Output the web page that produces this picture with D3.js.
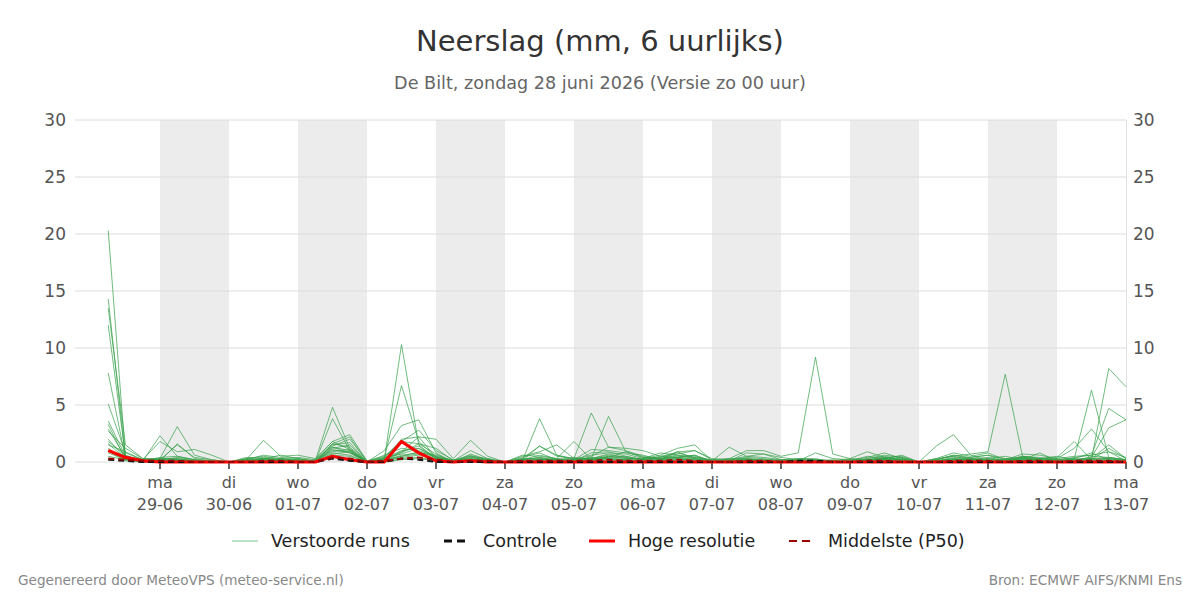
<!DOCTYPE html>
<html><head><meta charset="utf-8">
<script src="https://cdn.jsdelivr.net/npm/d3@7"></script>
<style>
html,body{margin:0;padding:0;background:#fff;}
svg{display:block;font-family:"DejaVu Sans",sans-serif;}
</style></head>
<body><svg id="c" width="1200" height="600"></svg>
<script>
// ---- Data (6-hourly precipitation, mm) from 28-06 06h to 13-07 00h ----
const firstTime = Date.UTC(2026,5,28,6);   // first value
const stepHours = 6;
const dayNames = ["ma","di","wo","do","vr","za","zo","ma","di","wo","do","vr","za","zo","ma"];
const dayDates = ["29-06","30-06","01-07","02-07","03-07","04-07","05-07","06-07","07-07","08-07","09-07","10-07","11-07","12-07","13-07"];
const shadedDays = ["29-06","01-07","03-07","05-07","07-07","09-07","11-07"];
const yTicks = [0,5,10,15,20,25,30];

const run01=[20.3,0.4,0.1, 0.2,0.1,0,0, 0,0,0.1,0, 0,0,1.3,0.8, 0,0.2,10.3,1.5, 0.3,0,0.2,0.1, 0,0,0.3,0.1, 0,0.2,0.3,0.2, 0.1,0.2,0.3,0.1, 0,0.1,0.2,0.1, 0,0.1,0,0, 0,0.1,0.2,0.3, 0,0,0.2,0.1, 0.1,0,0.3,0.2, 0,0.1,0,0.3, 0.1];
const run02=[14.3,0.3,0.1, 2.3,0.5,0.2,0, 0,0,0.3,0.2, 0.1,0,3.8,1.0, 0,0.3,6.7,1.8, 0.4,0.1,0.6,0.1, 0,0.1,3.8,0.6, 0.3,0.2,0.4,0.9, 0.4,0.3,0.6,0.3, 0,0.2,0.5,0.4, 0.2,0.2,0.1,0, 0.1,0,0.2,0.2, 0,0.1,0.4,0.3, 0.4,0.1,0.5,0.3, 0.2,0,0.5,0.4, 0.2];
const run03=[13.5,1.5,0.3, 0.3,3.1,0.6,0.2, 0,0,0.1,0.3, 0.2,0.1,4.8,1.2, 0,1.0,3.2,3.7, 0.8,0,0.4,0.2, 0,0.3,1.4,0.5, 0.3,0.3,4.0,0.9, 0.4,0.3,0.4,0.6, 0.1,0.3,0.3,0.2, 0.2,0.3,0.3,0, 0.2,0.2,0.3,0.4, 0,0.2,0.6,0.4, 0.6,0.1,0.4,0.3, 0.2,0.4,0.6,4.7, 3.7];
const run04=[12.0,0.5,0.2, 1.8,0.9,1.1,0.6, 0,0.2,1.9,0.5, 0.6,0.3,1.8,2.4, 0.1,0.5,1.8,2.8, 1.0,0.2,0.5,0.2, 0,0.5,0.9,1.5, 0.3,4.3,1.3,1.2, 1.0,0.5,0.8,0.4, 0.2,0.3,1.0,1.0, 0.5,0.8,9.2,0.7, 0.3,0.2,0.4,0.5, 0,0.3,0.5,0.7, 0.9,7.7,0.5,0.4, 0.1,0.3,0.2,8.2, 6.6];
const run05=[7.8,0.3,0.2, 0.1,1.6,0.3,0.1, 0,0.1,0.3,0.6, 0.3,0,1.6,2.2, 0,0.3,2.0,2.2, 2.0,0.3,1.9,0.5, 0,0.2,0.6,0.3, 1.8,0.2,0.5,0.3, 0.3,0.6,1.2,1.5, 0.1,1.3,0.5,0.7, 0.4,0.2,0.2,0.1, 0.3,0.9,0.4,0.2, 0,1.4,2.4,0.6, 0.1,0.3,0.4,0.3, 0.5,0.2,0.3,1.5, 0.3];
const run06=[5.1,0.8,0.2, 0.2,1.5,0.4,0.2, 0,0.3,0.5,0.3, 0.4,0.2,1.4,2.0, 0.1,0.4,1.8,1.6, 1.2,0.1,1.0,0.3, 0,0.1,1.4,0.6, 0.2,1.1,1.0,0.8, 0.6,0.2,0.9,1.0, 0.2,0.1,0.8,0.7, 0.2,0.1,0.8,0.3, 0.2,0.4,0.8,0.3, 0,0.3,0.8,0.5, 0.8,0.2,0.7,0.6, 0.3,0.5,0.6,0.9, 0.4];
const run07=[3.6,0.5,0.2, 0.3,0.3,0.1,0.1, 0,0.4,0.3,0.2, 0.1,0,1.2,1.5, 0,0.6,1.2,1.0, 0.5,0,0.7,0.2, 0,0.4,0.8,0.2, 0,0.5,1.3,1.0, 0.5,0.3,0.4,0.2, 0.1,0,0.2,0.1, 0,0.1,0.2,0.1, 0.1,0.3,0.6,0.4, 0,0.2,0.5,0.2, 0.3,0.5,0.2,0.8, 0.1,0.3,6.3,0.4, 0.2];
const run08=[3.3,0.2,0.1, 0.4,0.5,0.2,0, 0,0.2,0.6,0.4, 0.3,0.1,1.0,0.9, 0,0.2,0.9,2.2, 0.4,0.2,0.2,0.1, 0,0.6,0.5,0.3, 0.1,0.8,0.9,0.5, 0.2,0.4,0.7,1.0, 0.3,0.2,0.1,0.2, 0.1,0,0.1,0.2, 0.1,0.5,0.3,0.6, 0,0.1,0.3,0.4, 0.6,0.3,0.1,0.3, 0.3,1.2,2.9,0.9, 0.1];
const run09=[2.9,0.4,0.2, 0.1,0.2,0.1,0, 0,0.1,0.2,0.1, 0,0.2,1.8,1.1, 0,0.1,0.8,1.6, 0.7,0,0.5,0.3, 0,0.2,0.4,0.1, 0.2,0.6,0.8,0.7, 0.3,0.8,0.6,0.5, 0.1,0.2,0.4,0.3, 0.1,0.2,0.1,0, 0,0.3,0.5,0.2, 0,0.1,0.3,0.2, 0.2,0.1,0.3,0.2, 0.1,0.2,0.4,3.0, 3.7];
const run10=[2.7,1.2,0.3, 0.2,0.4,0.2,0.1, 0,0.3,0.4,0.2, 0.1,0,1.6,1.3, 0,0.3,1.0,1.2, 0.3,0.1,0.3,0.1, 0,0.1,0.2,0.2, 0.4,0.3,0.6,0.4, 0.1,0.3,0.4,0.6, 0,0.2,0.2,0.1, 0,0.3,0.2,0.1, 0,0.2,0.2,0.1, 0,0.1,0.2,0.3, 0.2,0.2,0.5,0.3, 0.4,1.8,0.2,0.3, 0.1];
const run11=[1.8,0.6,0.1, 0.3,0.2,0.1,0, 0,0.2,0.3,0.1, 0.2,0.1,1.3,1.0, 0,0.4,0.7,1.2, 0.5,0.1,0.4,0.2, 0,0.3,0.3,0.1, 0.2,0.2,0.5,0.3, 0.3,0.4,0.9,0.3, 0.1,0.1,0.3,0.1, 0,0.1,0,0.1, 0,0.2,0.3,0.2, 0,0.2,0.6,0.3, 0.1,0.2,0.3,0.1, 0.2,0.3,0.8,0.2, 0];
const run12=[1.6,0.3,0.1, 0.1,0.1,0,0, 0,0.1,0.2,0.3, 0.1,0,1.1,0.8, 0,0.2,0.5,0.9, 0.4,0,0.2,0.1, 0,0.1,0.2,0.3, 0.1,0.4,0.3,0.2, 0.1,0.2,0.3,0.2, 0,0.1,0.1,0, 0,0,0.1,0, 0.1,0.1,0.2,0.1, 0,0,0.1,0.1, 0.1,0,0.2,0.1, 0,0.1,0.3,0.4, 0.2];
const run13=[1.2,0.2,0, 0,0.1,0,0, 0,0,0.1,0.1, 0,0,0.8,0.6, 0,0.1,0.4,0.6, 0.2,0,0.1,0, 0,0,0.1,0.1, 0,0.1,0.2,0.1, 0,0.1,0.2,0.1, 0,0,0.1,0, 0,0,0,0, 0,0,0.1,0, 0,0,0.1,0.1, 0,0,0.1,0, 0,0,0.1,0.2, 0];
const run14=[1.5,0.9,0.2, 0.2,0.2,0.1,0, 0,0.2,0.2,0.1, 0.1,0.1,0.9,1.1, 0,0.1,0.6,0.8, 0.6,0.1,0.2,0.1, 0,0.2,0.2,0.2, 0.1,0.3,0.7,0.4, 0.2,0.3,0.5,0.4, 0.1,0.1,0.2,0.1, 0,0.1,0.1,0.1, 0,0.1,0.4,0.2, 0,0.1,0.2,0.2, 0.3,0.1,0.4,0.2, 0.2,0.1,0.2,1.2, 0.3];
const run15=[0.8,0.2,0.1, 0.1,0,0,0, 0,0,0,0.1, 0,0,0.6,0.5, 0,0,0.3,0.4, 0.1,0,0.1,0, 0,0,0.1,0, 0,0.1,0.1,0.1, 0,0.1,0.1,0, 0,0,0,0, 0,0,0,0, 0,0,0.1,0, 0,0,0,0, 0,0,0.1,0, 0,0,0.1,0.1, 0];
const run16=[2.0,0.3,0.1, 0.2,0.3,0.1,0, 0,0.1,0.3,0.2, 0.2,0.1,1.5,1.7, 0,0.2,0.9,1.4, 0.3,0,0.3,0.1, 0,0.2,0.4,0.2, 0.1,0.3,0.4,0.5, 0.2,0.5,0.4,0.3, 0.1,0.1,0.2,0.1, 0.1,0.1,0.1,0.1, 0,0.2,0.3,0.1, 0,0.1,0.2,0.2, 0.1,0.1,0.2,0.2, 0.1,0.2,0.3,0.3, 0.1];
const run17=[1.0,0.1,0, 0,0.1,0,0, 0,0,0.1,0, 0,0,0.7,0.9, 0,0.1,0.5,0.7, 0.3,0,0.1,0, 0,0.1,0.1,0.1, 0,0.2,0.3,0.2, 0.1,0.1,0.2,0.1, 0,0,0.1,0, 0,0,0,0, 0,0.1,0.1,0, 0,0,0.1,0.1, 0.1,0,0.1,0.1, 0,0.1,0.2,0.1, 0];
const run18=[0.5,0.2,0.1, 0,0.1,0,0, 0,0,0,0, 0,0,0.4,0.3, 0,0,0.2,0.3, 0.1,0,0,0, 0,0,0,0, 0,0,0.1,0, 0,0,0.1,0, 0,0,0,0, 0,0,0,0, 0,0,0,0, 0,0,0,0, 0,0,0,0, 0,0,0,0, 0];

const hiRes  =[1.0,0.4,0.1, 0,0,0,0, 0,0,0,0, 0,0,0.5,0.2, 0,0,1.8,0.8, 0.1,0,0.1,0, 0,0,0,0, 0,0,0,0, 0,0,0,0, 0,0,0,0, 0,0,0,0, 0,0,0,0, 0,0,0,0, 0,0,0,0, 0,0,0,0, 0];
const control=[0.2,0.1,0, 0,0,0,0, 0,0,0,0, 0,0,0.3,0.1, 0,0,0.3,0.2, 0,0,0,0, 0,0,0,0, 0,0,0,0, 0,0,0,0, 0,0,0,0, 0,0.1,0.1,0, 0,0,0,0, 0,0,0,0, 0,0,0,0, 0,0,0,0, 0];
const p50    =[0.3,0.2,0.1, 0.1,0.1,0,0, 0,0,0.1,0.1, 0,0,0.4,0.3, 0,0.1,0.3,0.4, 0.2,0,0.1,0.1, 0,0.1,0.1,0.1, 0.1,0.1,0.2,0.1, 0.1,0.1,0.2,0.1, 0,0,0.1,0.1, 0,0,0,0, 0,0.1,0.1,0, 0,0,0.1,0.1, 0.1,0,0.1,0.1, 0,0.1,0.1,0.1, 0];

const runs=[run01,run02,run03,run04,run05,run06,run07,run08,run09,run10,run11,run12,run13,run14,run15,run16,run17,run18];

// ---- Drawing ----
const svg=d3.select("#c");
const L=75,R=1126,T=120,B=462;
const H=3600*1000;
const parseD=s=>{const [d,m]=s.split("-").map(Number);return Date.UTC(2026,m-1,d);};
const x=d3.scaleUtc().domain([new Date(Date.UTC(2026,5,29)-29.565*H), new Date(Date.UTC(2026,6,13))]).range([L,R]);
const y=d3.scaleLinear().domain([0,30]).range([B,T]);
const tOf=i=>new Date(firstTime+i*stepHours*H);

svg.append("text").attr("x",600).attr("y",51).attr("text-anchor","middle")
  .attr("font-size",29).attr("fill","#333").text("Neerslag (mm, 6 uurlijks)");
svg.append("text").attr("x",600).attr("y",89).attr("text-anchor","middle")
  .attr("font-size",17.6).attr("fill","#666").text("De Bilt, zondag 28 juni 2026 (Versie zo 00 uur)");

// shaded days
svg.append("g").selectAll("rect").data(shadedDays).join("rect")
  .attr("x",d=>x(new Date(parseD(d)))).attr("y",T)
  .attr("width",d=>x(new Date(parseD(d)+24*H))-x(new Date(parseD(d))))
  .attr("height",B-T).attr("fill","#ececec");

// grid
svg.append("g").selectAll("line").data(yTicks).join("line")
  .attr("x1",L).attr("x2",R).attr("y1",d=>y(d)).attr("y2",d=>y(d))
  .attr("stroke","#dcdcdc").attr("stroke-width",1);
svg.append("line").attr("x1",R+0.5).attr("x2",R+0.5).attr("y1",T).attr("y2",B).attr("stroke","#e2e2e2");

// y labels
const yl=svg.append("g").attr("font-size",17).attr("fill","#555");
yl.selectAll("text.l").data(yTicks).join("text").attr("class","l")
  .attr("x",66).attr("y",d=>y(d)).attr("dy","0.35em").attr("text-anchor","end").text(d=>d);
yl.selectAll("text.r").data(yTicks).join("text").attr("class","r")
  .attr("x",1133).attr("y",d=>y(d)).attr("dy","0.35em").attr("text-anchor","start").text(d=>d);

// x ticks
const xt=svg.append("g");
xt.selectAll("line").data(dayDates).join("line")
  .attr("x1",d=>x(new Date(parseD(d)))).attr("x2",d=>x(new Date(parseD(d))))
  .attr("y1",B).attr("y2",B+7).attr("stroke","#666").attr("stroke-width",2);
const xl=xt.append("g").attr("font-size",16).attr("fill","#555").attr("text-anchor","middle");
xl.selectAll("text.n").data(dayDates).join("text").attr("class","n")
  .attr("x",d=>x(new Date(parseD(d)))).attr("y",488).text((d,i)=>dayNames[i]);
xl.selectAll("text.d").data(dayDates).join("text").attr("class","d")
  .attr("x",d=>x(new Date(parseD(d)))).attr("y",510).text(d=>d);

const line=d3.line().x((d,i)=>x(tOf(i))).y(d=>y(d));
const plot=svg.append("g");
plot.selectAll("path.run").data(runs).join("path").attr("class","run")
  .attr("d",line).attr("fill","none").attr("stroke","#34a048").attr("stroke-opacity",0.7).attr("stroke-width",1);
plot.append("path").attr("d",line(hiRes)).attr("fill","none").attr("stroke","#ff0000").attr("stroke-width",3.2).attr("stroke-linejoin","round");
plot.append("path").attr("d",line(control)).attr("fill","none").attr("stroke","#111").attr("stroke-width",2).attr("stroke-dasharray","6,4");
plot.append("path").attr("d",line(p50)).attr("fill","none").attr("stroke","#9b0000").attr("stroke-width",2).attr("stroke-dasharray","6,4");

// legend
const leg=[
  {label:"Verstoorde runs",x:232,c:"#7cc489",w:1,dash:null},
  {label:"Controle",x:444,c:"#111",w:3,dash:"8,5"},
  {label:"Hoge resolutie",x:589,c:"#ff0000",w:3,dash:null},
  {label:"Middelste (P50)",x:789,c:"#9b0000",w:2,dash:"8,5"}
];
const lg=svg.append("g");
leg.forEach(o=>{
  lg.append("line").attr("x1",o.x).attr("x2",o.x+26).attr("y1",541).attr("y2",541)
    .attr("stroke",o.c).attr("stroke-width",o.w).attr("stroke-dasharray",o.dash);
  lg.append("text").attr("x",o.x+39).attr("y",541).attr("dy","0.35em").attr("font-size",17.5).attr("fill","#222").text(o.label);
});

svg.append("text").attr("x",18).attr("y",585).attr("font-size",13.6).attr("fill","#888").text("Gegenereerd door MeteoVPS (meteo-service.nl)");
svg.append("text").attr("x",1182).attr("y",585).attr("text-anchor","end").attr("font-size",13.6).attr("fill","#888").text("Bron: ECMWF AIFS/KNMI Ens");
</script></body></html>
